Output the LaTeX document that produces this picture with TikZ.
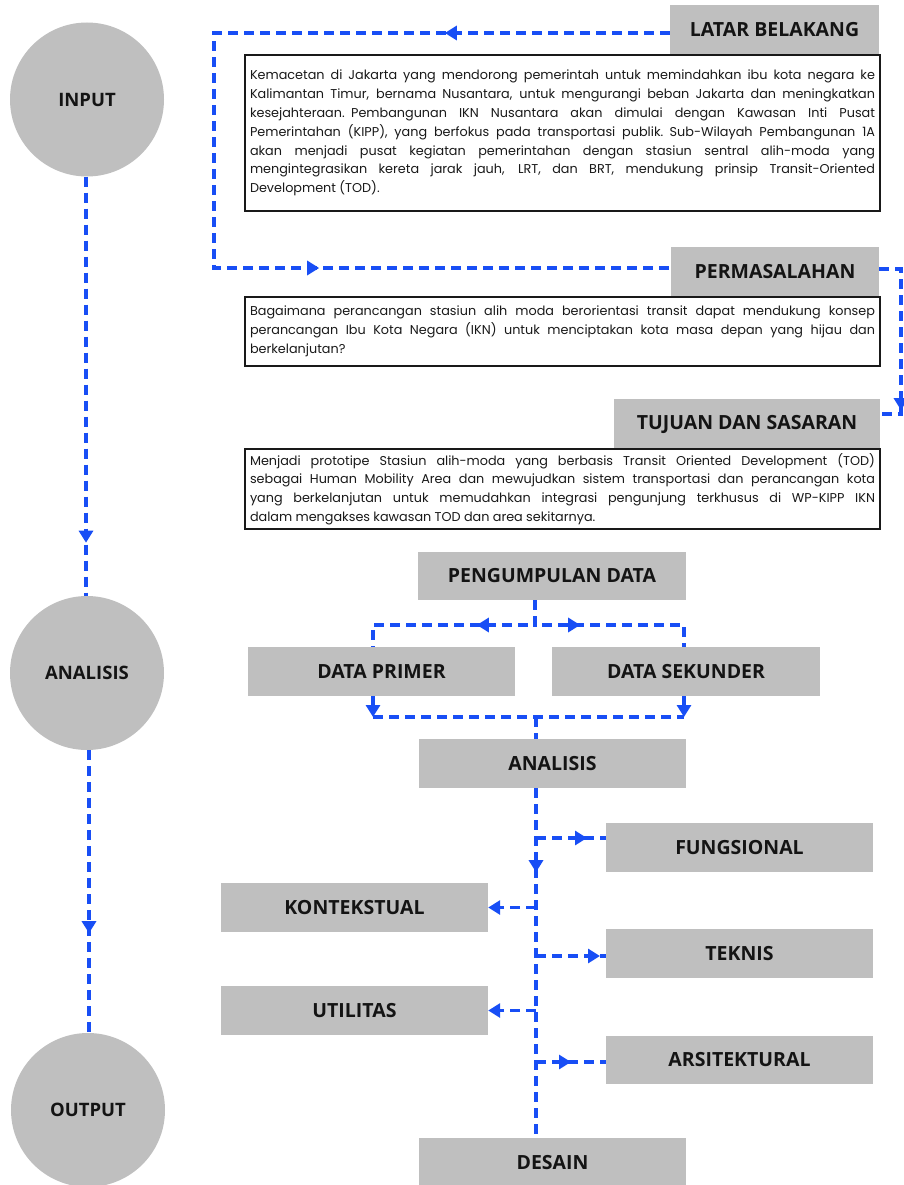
\documentclass[tikz,border=0pt]{standalone}
\usepackage{fontspec}
\setmainfont{Poppins}
\newfontfamily\headfont{Open Sans}
\usetikzlibrary{arrows.meta,decorations.markings}
\definecolor{flowblue}{RGB}{24,78,245}
\definecolor{boxgray}{RGB}{191,191,191}
\newcommand{\jline}[1]{\hbox to \hsize{\spaceskip=0.26em plus 1fil minus 0.15em #1}}
\newcommand{\lastline}[1]{\hbox to \hsize{\spaceskip=0.26em #1\hfil}}
\tikzset{
  graybox/.style={fill=boxgray, draw=none, inner sep=0pt, text=black!92,
    font=\headfont\bfseries\fontsize{19.5}{22}\selectfont},
  descbox/.style={draw=black!90, line width=1.6pt, fill=white, inner xsep=5pt,
    inner ysep=0pt, text width=625pt, text=black!90,
    font=\fontsize{12.8}{18.8}\selectfont},
  circ/.style={circle, fill=boxgray, minimum size=154pt, inner sep=0pt, text=black!92,
    font=\headfont\bfseries\fontsize{18.5}{21}\selectfont},
  flow/.style={flowblue, line width=3.5pt, dash pattern=on 10pt off 6pt},
  endtip/.style={-{Triangle[length=12pt,width=14pt]}},
  midtip/.style={postaction={decorate}, decoration={markings,
    mark=at position #1 with {\arrow{Triangle[length=12pt,width=14pt]}}}},
  twotips/.style 2 args={postaction={decorate}, decoration={markings,
    mark=at position #1 with {\arrow{Triangle[length=12pt,width=14pt]}},
    mark=at position #2 with {\arrow{Triangle[length=12pt,width=14pt]}}}}
}
\begin{document}
\begin{tikzpicture}[x=1pt,y=-1pt]
\useasboundingbox (0,0) rectangle (903,1185);
% left column circles
\node[circ] (ci) at (87,99.5) {INPUT};
\node[circ] (ca) at (87,673) {ANALISIS};
\node[circ] (co) at (88,1110) {OUTPUT};
\draw[flow, midtip=366pt] ([xshift=-1pt]ci.south) -- ([xshift=-1pt]ca.north);
\draw[flow, midtip=183pt] ([xshift=2pt]ca.south) -- ([xshift=1pt]co.north);
% header boxes
\node[graybox, minimum width=209pt, minimum height=50pt] (lb) at (774.5,30) {LATAR BELAKANG};
\node[graybox, minimum width=208pt, minimum height=50pt] (pm) at (775,272) {PERMASALAHAN};
\node[graybox, minimum width=266pt, minimum height=50pt] (tj) at (747,424) {TUJUAN DAN SASARAN};
% description boxes
\node[descbox, minimum height=156pt] (t1) at (562.5,133) {%
\jline{Kemacetan di Jakarta yang mendorong pemerintah untuk memindahkan ibu kota negara ke}
\jline{Kalimantan Timur, bernama Nusantara, untuk mengurangi beban Jakarta dan meningkatkan}
\jline{kesejahteraan. Pembangunan IKN Nusantara akan dimulai dengan Kawasan Inti Pusat}
\jline{Pemerintahan (KIPP), yang berfokus pada transportasi publik. Sub-Wilayah Pembangunan 1A}
\jline{akan menjadi pusat kegiatan pemerintahan dengan stasiun sentral alih-moda yang}
\jline{mengintegrasikan kereta jarak jauh, LRT, dan BRT, mendukung prinsip Transit-Oriented}
\lastline{Development (TOD).}};
\node[descbox, minimum height=69pt] (t2) at (562.5,331.5) {%
\jline{Bagaimana perancangan stasiun alih moda berorientasi transit dapat mendukung konsep}
\jline{perancangan Ibu Kota Negara (IKN) untuk menciptakan kota masa depan yang hijau dan}
\lastline{berkelanjutan?}};
\node[descbox, minimum height=80pt] (t3) at (562.5,489) {%
\jline{Menjadi prototipe Stasiun alih-moda yang berbasis Transit Oriented Development (TOD)}
\jline{sebagai Human Mobility Area dan mewujudkan sistem transportasi dan perancangan kota}
\jline{yang berkelanjutan untuk memudahkan integrasi pengunjung terkhusus di WP-KIPP IKN}
\lastline{dalam mengakses kawasan TOD dan area sekitarnya.}};
% top connectors
\coordinate (lbend) at (214,150);
\coordinate (rbend) at (901,340);
\draw[flow, twotips={225pt}{796pt}] ([yshift=-3pt]lb.west) -| (lbend) |- ([yshift=4pt]pm.west);
\draw[flow, midtip=163pt] ([yshift=3pt]pm.east) -| (rbend) |- ([yshift=10pt]tj.east);
% data collection
\node[graybox, minimum width=268pt, minimum height=48pt] (pd) at (552,576) {PENGUMPULAN DATA};
\node[graybox, minimum width=267pt, minimum height=49pt] (dp) at (381.5,671.5) {DATA PRIMER};
\node[graybox, minimum width=268pt, minimum height=49pt] (dsk) at (686,671.5) {DATA SEKUNDER};
\node[graybox, minimum width=267pt, minimum height=49pt] (an) at (552.5,763.5) {ANALISIS};
\coordinate (sp) at (535,625);
\coordinate (jn) at (536,717);
\draw[flow, midtip=83pt] ([xshift=-17pt]pd.south) -- (sp) -| ([xshift=-8.5pt]dp.north);
\draw[flow, midtip=70pt] ([xshift=-17pt]pd.south) -- (sp) -| ([xshift=-2pt]dsk.north);
\draw[flow, endtip] ([xshift=-8.5pt]dp.south) -- ([xshift=-8.5pt]dp.south |- jn);
\draw[flow, endtip] ([xshift=-2pt]dsk.south) -- ([xshift=-2pt]dsk.south |- jn);
\draw[flow] ([xshift=-8.5pt]dp.south |- jn) -- ([xshift=-2pt]dsk.south |- jn);
\draw[flow] (jn) -- ([xshift=-16.5pt]an.north);
% analysis branches
\node[graybox, minimum width=267pt, minimum height=49pt] (fu) at (739.5,847.5) {FUNGSIONAL};
\node[graybox, minimum width=267pt, minimum height=49pt] (ko) at (354.5,907.5) {KONTEKSTUAL};
\node[graybox, minimum width=267pt, minimum height=49pt] (te) at (739.5,953.5) {TEKNIS};
\node[graybox, minimum width=267pt, minimum height=49pt] (ut) at (354.5,1010.5) {UTILITAS};
\node[graybox, minimum width=267pt, minimum height=48pt] (ar) at (739.5,1060) {ARSITEKTURAL};
\node[graybox, minimum width=267pt, minimum height=49pt] (de) at (552.5,1162.5) {DESAIN};
\draw[flow, midtip=84pt] ([xshift=-16.5pt]an.south) -- ([xshift=-16.5pt]de.north);
\coordinate (bf) at (536,838);
\coordinate (bk) at (536,907.5);
\coordinate (bt) at (536,956);
\coordinate (bu) at (536,1010.5);
\coordinate (ba) at (536,1062);
\draw[flow, midtip=51pt] (bf) -- (bf -| fu.west);
\draw[flow, endtip] (bk) -- (ko.east);
\draw[flow, midtip=64pt] (bt) -- (bt -| te.west);
\draw[flow, endtip] (bu) -- (ut.east);
\draw[flow, midtip=35pt] (ba) -- (ba -| ar.west);
\end{tikzpicture}
\end{document}
